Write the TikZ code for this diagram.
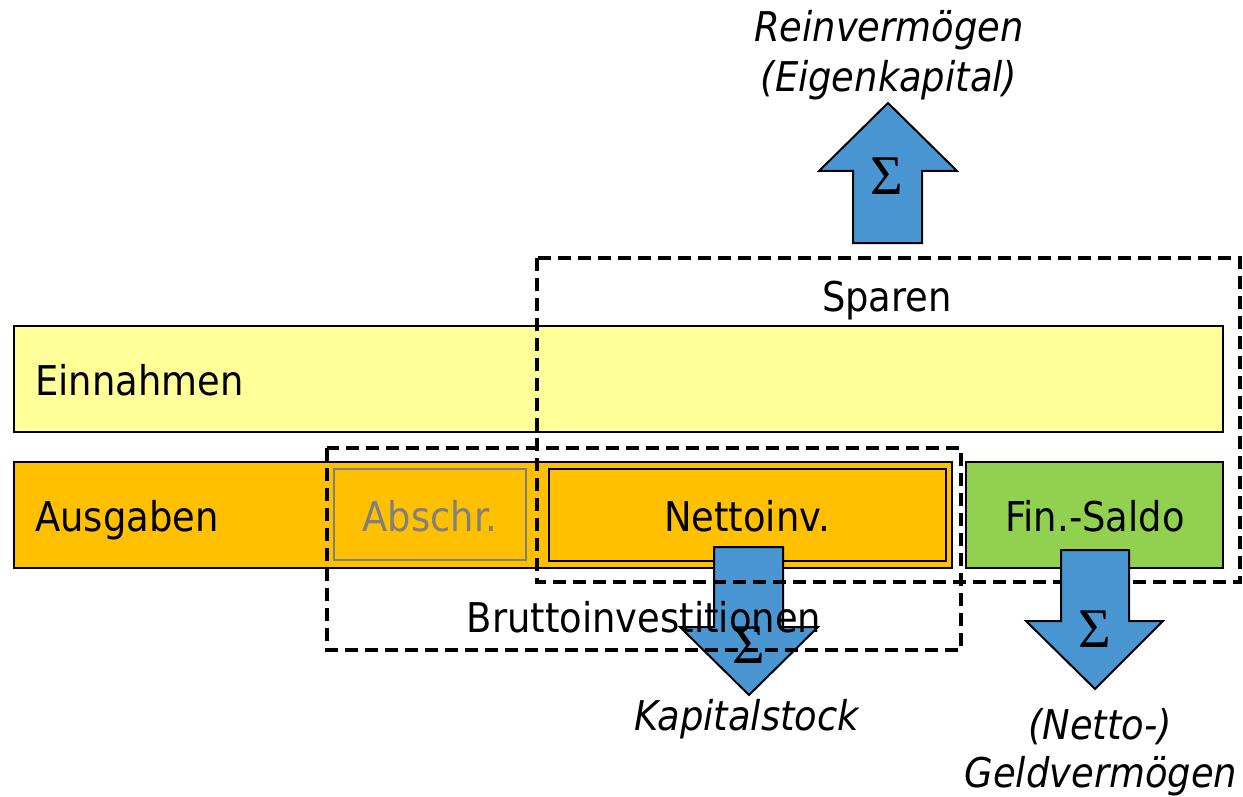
\documentclass[tikz,border=0pt]{standalone}
\usepackage{fontspec}
\setmainfont{DejaVu Sans Condensed}
\newfontfamily\sigmafont{Liberation Serif}
\definecolor{einY}{HTML}{FFFF99}
\definecolor{ausO}{HTML}{FFC000}
\definecolor{finG}{HTML}{92D050}
\definecolor{arrB}{HTML}{4A96D2}
\definecolor{absG}{HTML}{808080}
\begin{document}
\begin{tikzpicture}[x=1pt,y=-1pt,
  txt/.style={inner sep=0pt,font=\fontsize{41}{49}\selectfont},
  itxt/.style={inner sep=0pt,font=\fontsize{41}{49}\selectfont\itshape},
  sig/.style={inner sep=0pt,font=\fontsize{56}{64}\selectfont\sigmafont},
  barbox/.style={draw=black,line width=1.6pt},
  dashbox/.style={draw=black,line width=3.6pt,dash pattern=on 13pt off 7pt},
  blockarrow/.style={fill=arrB,draw=black,line width=2pt,line join=miter}
]
\useasboundingbox (0,0) rectangle (1243,797);
% bars
\draw[barbox,fill=einY] (14,326) rectangle (1223,432);
\draw[barbox,fill=ausO] (14,462) rectangle (952,568);
\draw[draw=absG,line width=2.2pt] (334,469) rectangle (526,560);
\draw[draw=black,line width=2.4pt,fill=ausO] (549,469) rectangle (946,561);
\draw[barbox,fill=finG] (966,462) rectangle (1223,568);
% middle down arrow (under dashed boxes and text)
\draw[blockarrow] (714,547) -- (783,547) -- (783,627) -- (818,627) -- (749,695) -- (680,627) -- (714,627) -- cycle;
% texts
\node[txt,anchor=base west] (ein) at (35,395) {Einnahmen};
\node[txt,anchor=base west] (aus) at (35,531) {Ausgaben};
\node[txt,anchor=base,text=absG] (abs) at (430,531) {Abschr.};
\node[txt,anchor=base] (net) at (747,531) {Nettoinv.};
\node[txt,anchor=base] (fin) at (1095,531) {Fin.-Saldo};
\node[txt,anchor=base] (spa) at (887,311) {Sparen};
\node[txt,anchor=base] (bru) at (644,632) {Bruttoinvestitionen};
\node[sig] (s2) at (749,645) {Σ};
% dashed boxes
\draw[dashbox] (537,258) rectangle (1240,582);
\draw[dashbox] (327,448) rectangle (961,650);
% top up arrow
\draw[blockarrow] (853,243) -- (922,243) -- (922,171) -- (957,171) -- (888,103) -- (819,171) -- (853,171) -- cycle;
\node[sig] (s1) at (887,176) {Σ};
% right down arrow
\draw[blockarrow] (1061,550) -- (1129,550) -- (1129,621) -- (1163,621) -- (1095,689) -- (1026,621) -- (1061,621) -- cycle;
\node[sig] (s3) at (1095,629) {Σ};
% italic labels
\node[itxt,anchor=base] (rein) at (889,42) {Reinvermögen};
\node[itxt,anchor=base] (eig) at (889,92) {(Eigenkapital)};
\node[itxt,anchor=base] (kap) at (747,730) {Kapitalstock};
\node[itxt,anchor=base] (net2) at (1100,739) {(Netto-)};
\node[itxt,anchor=base] (geld) at (1101,787) {Geldvermögen};
\end{tikzpicture}
\end{document}
